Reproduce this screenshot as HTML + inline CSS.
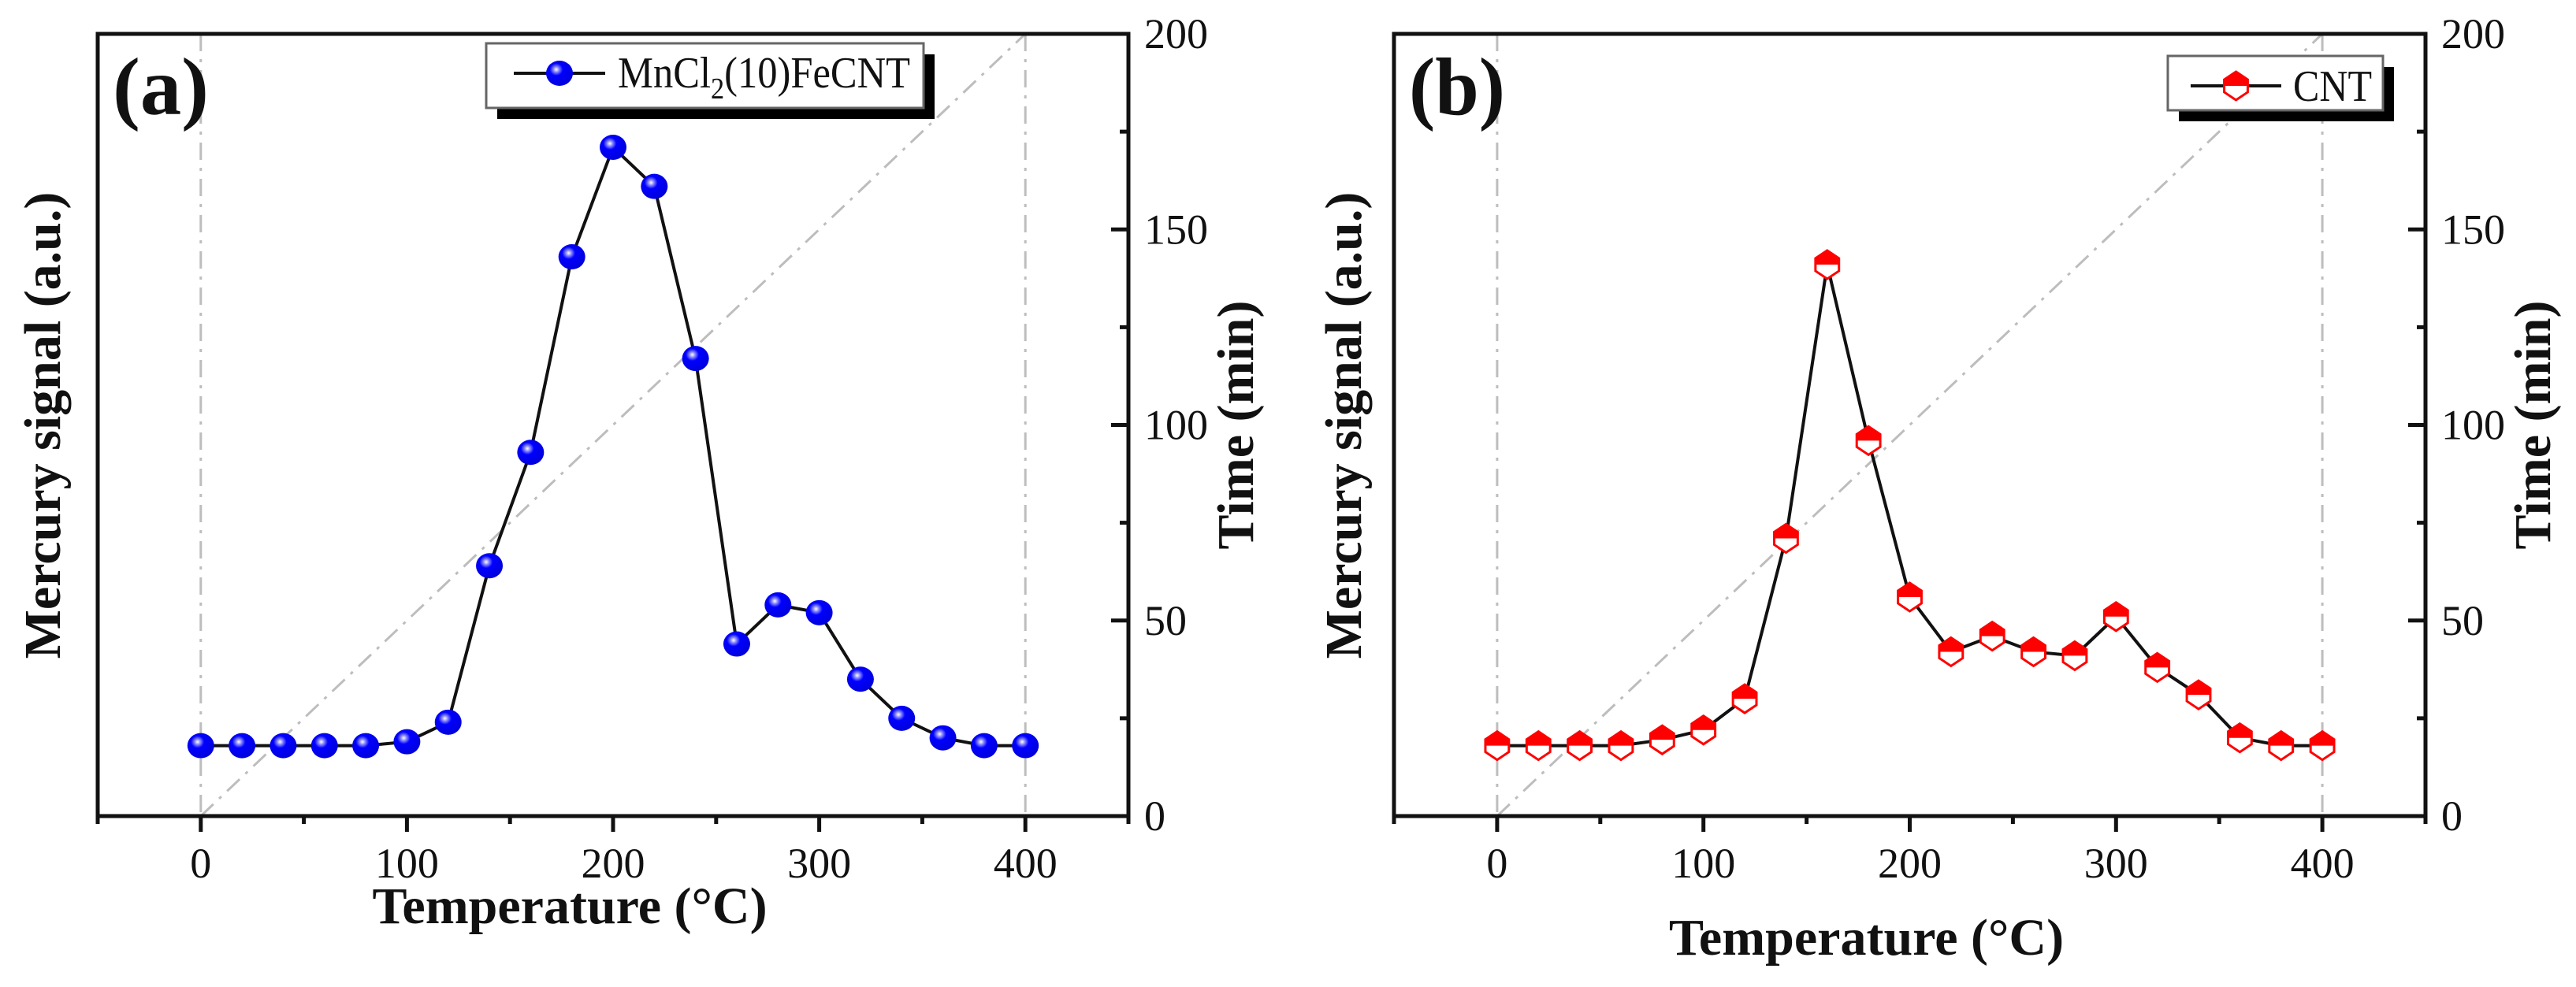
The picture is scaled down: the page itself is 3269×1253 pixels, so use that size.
<!DOCTYPE html>
<html><head><meta charset="utf-8">
<style>
html,body{margin:0;padding:0;background:#fff;}
svg{display:block;font-family:"Liberation Serif",serif;}
</style></head>
<body>
<svg id="chart" width="3269" height="1253" viewBox="0 0 3269 1253" xmlns="http://www.w3.org/2000/svg">
<defs>
<radialGradient id="ball" cx="0.38" cy="0.35" r="0.7">
<stop offset="0" stop-color="#ffffff"/>
<stop offset="0.15" stop-color="#8a8aff"/>
<stop offset="0.35" stop-color="#0000ff"/>
<stop offset="1" stop-color="#0000d8"/>
</radialGradient>
</defs>
</svg>
<script>
const temps = [0,20,40,60,80,100,120,140,160,180,200,220,240,260,280,300,320,340,360,380,400];
const signalA = [18,18,18,18,18,19,24,64,93,143,171,161,117,44,54,52,35,25,20,18,18];
const signalB = [18,18,18,18,19.5,22,30,71,141,96,56,42,46,42,41,51,38,31,20,18,18];
const xTicks = [0,100,200,300,400];
const timeTicks = [0,50,100,150,200];
const rampTemps = [0,400];
const rampTimes = [0,200];

const NS = "http://www.w3.org/2000/svg";
const svg = document.getElementById('chart');
function mk(tag, attrs, parent){const e=document.createElementNS(NS,tag);for(const k in attrs)e.setAttribute(k,attrs[k]);(parent||svg).appendChild(e);return e;}

function panel(cfg){
  const L=cfg.left, R=cfg.right, T=43, B=1036;
  const xs=v=>L+(v+50)/500*(R-L);
  const ys=v=>B-v/200*(B-T);
  const g=mk('g',{});
  
  
  const dash='22 10 4 10';
  rampTemps.forEach(t=>{
    const l=mk('line',{x1:xs(t),y1:T,x2:xs(t),y2:B,stroke:'#bdbdbd','stroke-width':3,'stroke-dasharray':dash},g);
    
    
  });
  const ramp=mk('line',{x1:xs(rampTemps[0]),y1:ys(rampTimes[0]),x2:xs(rampTemps[1]),y2:ys(rampTimes[1]),stroke:'#bdbdbd','stroke-width':3,'stroke-dasharray':dash},g);
  
  
  const fr=mk('path',{d:`M${L},${B} L${L},${T} L${R},${T} L${R},${B} Z`,fill:'none',stroke:'#111','stroke-width':5},g);
  
  
  for(let v=-50; v<=450; v+=50){
    const major=xTicks.includes(v);
    const t=mk('line',{x1:xs(v),y1:B,x2:xs(v),y2:B+(major?20:10),stroke:'#111','stroke-width':5},g);
    
    
  }
  xTicks.forEach(v=>{
    const t=mk('text',{x:xs(v),y:B+78,'font-size':54,'text-anchor':'middle',fill:'#111'},g);
    t.textContent=v;
    
    
  });
  for(let v=0; v<=200; v+=25){
    const major=timeTicks.includes(v);
    const t=mk('line',{x1:R,y1:ys(v),x2:R-(major?22:11),y2:ys(v),stroke:'#111','stroke-width':5},g);
    
    
  }
  timeTicks.forEach(v=>{
    const t=mk('text',{x:R+20,y:ys(v)+18,'font-size':54,fill:'#111'},g);
    t.textContent=v;
    
    
  });
  const xt=mk('text',{x:(L+R)/2+cfg.xtShift,y:cfg.xtY,'font-size':66,'font-weight':'bold','text-anchor':'middle',fill:'#111'},g);
  xt.textContent='Temperature (°C)';
  
  
  const yl=mk('text',{x:0,y:0,'font-size':66,'font-weight':'bold','text-anchor':'middle',fill:'#111',transform:`translate(${cfg.ylX},${cfg.ylY}) rotate(-90)`},g);
  yl.textContent='Mercury signal (a.u.)';
  
  
  const yr=mk('text',{x:0,y:0,'font-size':66,'font-weight':'bold','text-anchor':'middle',fill:'#111',transform:`translate(${cfg.yrX},${ys(100)}) rotate(-90)`},g);
  yr.textContent='Time (min)';
  
  
  const pl=mk('text',{x:L+19,y:145,'font-size':104,'font-weight':'bold',fill:'#111',textLength:122,lengthAdjust:'spacingAndGlyphs'},g);
  pl.textContent=cfg.tag;
  
  
  const pts=temps.map((t,i)=>xs(t)+','+ys(cfg.data[i])).join(' ');
  const line=mk('polyline',{points:pts,fill:'none',stroke:'#111','stroke-width':4},g);
  
  
  temps.forEach((t,i)=>{
    const m=cfg.marker(g,xs(t),ys(cfg.data[i]));
    
    
  });
  const lg=mk('g',{},g);
  
  
  const lb=cfg.legend;
  mk('rect',{x:lb.x+14,y:lb.y+14,width:lb.w,height:lb.h,fill:'#000'},lg);
  mk('rect',{x:lb.x,y:lb.y,width:lb.w,height:lb.h,fill:'#fff',stroke:'#666','stroke-width':3},lg);
  const cy=lb.y+lb.cy;
  mk('line',{x1:lb.x+lb.l1,y1:cy,x2:lb.x+lb.l2,y2:cy,stroke:'#111','stroke-width':4},lg);
  const lm=cfg.marker(lg,lb.x+(lb.l1+lb.l2)/2,cy);
  
  
  const lt=mk('text',{x:lb.x+lb.tx,y:lb.y+lb.base,'font-size':56,fill:'#111',textLength:lb.tw,lengthAdjust:'spacingAndGlyphs'},lg);
  lt.innerHTML=cfg.legendText;
  
  
}

function ball(g,x,y){return mk('ellipse',{cx:x,cy:y,rx:17,ry:16,fill:'url(#ball)'},g);}
function hex(g,x,y){
  const gg=mk('g',{},g);
  const r=16, h=r*0.87;
  const p=[[x,y-r-2],[x+h+1,y-r/2],[x+h+1,y+r/2],[x,y+r+2],[x-h-1,y+r/2],[x-h-1,y-r/2]];
  mk('polygon',{points:p.map(a=>a.join(',')).join(' '),fill:'#fff',stroke:'#ff0000','stroke-width':3},gg);
  mk('polygon',{points:`${x},${y-r-2} ${x+h+1},${y-r/2} ${x+h+1},${y} ${x-h-1},${y} ${x-h-1},${y-r/2}`,fill:'#ff0000'},gg);
  return gg;
}

panel({name:'panel-a',left:124,right:1432,data:signalA,marker:ball,tag:'(a)',xtShift:-55,xtY:1172,ylX:76,ylY:540,yrX:1590,
  legend:{x:617,y:55,w:555,h:82,cy:38,l1:35,l2:151,tx:167,base:56,tw:371},legendText:'MnCl<tspan font-size="38" dy="14">2</tspan><tspan dy="-14">(10)FeCNT</tspan>'});
panel({name:'panel-b',left:1769,right:3078,data:signalB,marker:hex,tag:'(b)',xtShift:-55,xtY:1212,ylX:1727,ylY:540,yrX:3236,
  legend:{x:2751,y:71,w:273,h:69,cy:38,l1:29,l2:144,tx:159,base:57,tw:100},legendText:'CNT'});
</script>
</body></html>
